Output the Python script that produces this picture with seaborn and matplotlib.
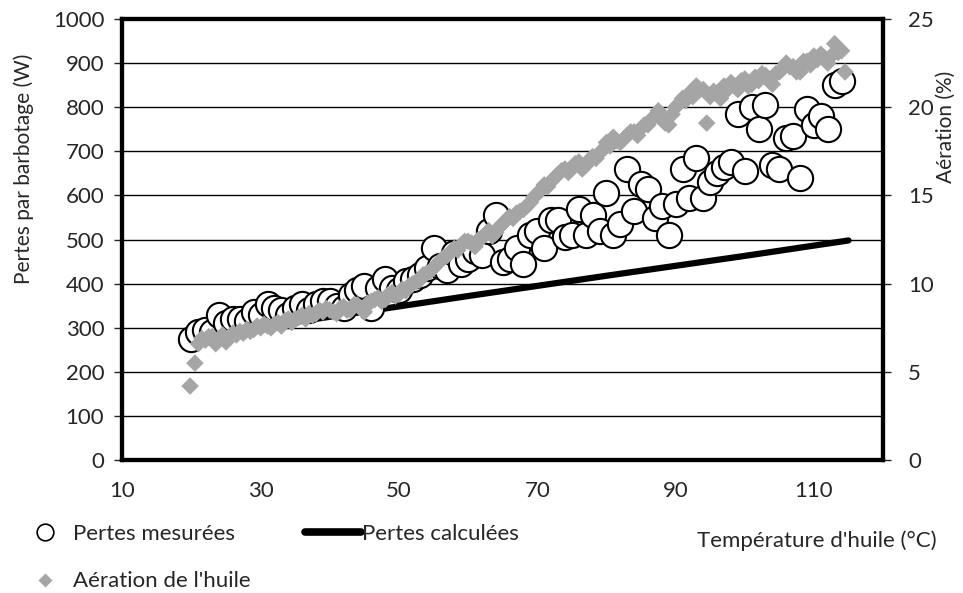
import numpy as np
import pandas as pd
import matplotlib
matplotlib.use("Agg")
import matplotlib.pyplot as plt
from matplotlib.lines import Line2D
import seaborn as sns

# Measured losses (W) vs oil temperature (degC)
temp_mes = [20, 21, 22, 23, 24, 25, 26, 27, 28, 29, 30, 31, 32, 33, 34, 35, 36, 37, 38, 39,
            40, 41, 42, 43, 44, 45, 46, 47, 48, 49, 50, 51, 52, 53, 54, 55, 56, 57, 58, 59,
            60, 61, 62, 63, 64, 65, 66, 67, 68, 69, 70, 71, 72, 73, 74, 75, 76, 77, 78, 79,
            80, 81, 82, 83, 84, 85, 86, 87, 88, 89, 90, 91, 92, 93, 94, 95, 96, 97, 98, 99,
            100, 101, 102, 103, 104, 105, 106, 107, 108, 109, 110, 111, 112, 113, 114]
pertes_mes = [275, 290, 295, 290, 330, 310, 320, 320, 315, 335, 330, 355, 345, 340, 330, 345, 355, 340, 355, 360,
              360, 350, 345, 375, 385, 395, 345, 390, 410, 390, 385, 405, 410, 420, 435, 480, 440, 430, 470, 445,
              455, 475, 465, 520, 555, 450, 455, 480, 445, 510, 520, 480, 545, 545, 505, 510, 570, 510, 555, 520,
              605, 510, 535, 660, 565, 625, 615, 550, 575, 510, 580, 660, 595, 685, 595, 630, 650, 665, 675, 785,
              655, 800, 750, 805, 670, 660, 730, 735, 640, 795, 760, 780, 750, 850, 860]

# Calculated losses (W)
temp_calc = [20, 40, 60, 80, 100, 115]
pertes_calc = [278, 325, 372, 418, 463, 498]

# Oil aeration (%)
temp_aer = [19.8, 20.5, 21, 21.5, 22, 22.5, 23, 23.5, 24, 24.5, 25, 25.5, 26, 26.5, 27, 27.5, 28, 28.5,
            29, 29.5, 30, 30.5, 31, 31.5, 32, 32.5, 33, 33.5, 34, 34.5, 35, 35.5, 36, 36.5, 37, 37.5,
            38, 38.5, 39, 39.5, 40, 40.5, 41, 41.5, 42, 42.5, 43, 43.5, 44, 44.5, 45, 45.5, 46, 46.5,
            47, 47.5, 48, 48.5, 49, 49.5, 50, 50.5, 51, 51.5, 52, 52.5, 53, 53.5, 54, 54.5, 55, 55.5,
            56, 56.5, 57, 57.5, 58, 58.5, 59, 59.5, 60, 60.5, 61, 61.5, 62, 62.5, 63, 63.5, 64, 64.5,
            65, 65.5, 66, 66.5, 67, 67.5, 68, 68.5, 69, 69.5, 70, 70.5, 71, 71.5, 72, 72.5, 73, 73.5,
            74, 74.5, 75, 75.5, 76, 76.5, 77, 77.5, 78, 78.5, 79, 79.5, 80, 80.5, 81, 81.5, 82, 82.5,
            83, 83.5, 84, 84.5, 85, 85.5, 86, 86.5, 87, 87.5, 88, 88.5, 89, 89.5, 90, 90.5, 91, 91.5,
            92, 92.5, 93, 93.5, 94, 94.5, 95, 95.5, 96, 96.5, 97, 97.5, 98, 98.5, 99, 99.5, 100, 100.5,
            101, 101.5, 102, 102.5, 103, 103.5, 104, 104.5, 105, 105.5, 106, 106.5, 107, 107.5, 108, 108.5,
            109, 109.5, 110, 110.5, 111, 111.5, 112, 112.5, 113, 113.5, 114, 114.5]
aeration = [4.2, 5.5, 6.6, 6.9, 6.8, 7.0, 7.0, 6.6, 6.9, 7.1, 6.7, 7.0, 7.2, 7.1, 7.3, 7.2, 7.4, 7.3,
            7.4, 7.6, 7.5, 7.7, 7.6, 7.5, 7.7, 7.8, 7.6, 7.9, 8.0, 7.8, 8.0, 8.1, 8.2, 8.0, 8.3, 8.2,
            8.3, 8.5, 8.4, 8.6, 8.5, 8.4, 8.3, 8.6, 8.7, 8.5, 8.5, 8.8, 8.8, 8.6, 8.4, 8.9, 9.0, 9.1,
            9.2, 9.0, 9.1, 9.4, 9.5, 9.3, 9.4, 9.7, 9.6, 9.9, 10.0, 10.1, 10.2, 10.5, 10.6, 10.7, 10.9, 11.1,
            11.3, 11.5, 11.6, 11.8, 12.0, 11.9, 12.2, 12.4, 12.4, 12.3, 12.1, 12.5, 12.6, 12.8, 13.0, 12.7,
            12.9, 13.2, 13.4, 13.6, 13.8, 13.7, 14.0, 14.1, 14.2, 14.4, 14.6, 14.9, 15.1, 15.3, 15.6, 15.5,
            15.8, 16.0, 16.2, 16.4, 16.5, 16.3, 16.6, 16.8, 16.9, 16.5, 16.7, 17.0, 17.2, 17.1, 17.4, 17.6,
            18.0, 17.8, 18.3, 18.1, 18.0, 18.2, 18.4, 18.6, 18.6, 18.4, 18.8, 19.0, 19.0, 19.3, 19.5, 19.8,
            19.3, 19.1, 19.0, 19.6, 20.0, 20.2, 20.5, 20.4, 20.8, 20.6, 21.2, 21.0, 21.0, 19.1, 20.6, 20.9,
            20.8, 20.5, 21.2, 21.0, 21.4, 21.2, 21.0, 21.5, 21.6, 21.2, 21.3, 21.7, 21.5, 21.9, 21.8, 21.5,
            21.3, 21.9, 22.0, 22.2, 22.5, 22.3, 22.3, 22.0, 22.0, 22.6, 22.6, 22.4, 22.9, 22.7, 23.0, 22.8,
            22.5, 22.9, 23.6, 23.1, 23.2, 22.0]

df_mes = pd.DataFrame({"temp": temp_mes, "pertes": pertes_mes})
df_calc = pd.DataFrame({"temp": temp_calc, "pertes": pertes_calc})
df_aer = pd.DataFrame({"temp": temp_aer, "aeration": aeration})

sns.set_style("white")
plt.rcParams["font.family"] = ["Lato", "DejaVu Sans"]
fs = 16

fig = plt.figure(figsize=(9.63, 5.93), dpi=100)
ax = fig.add_axes([0.127, 0.224, 0.790, 0.744])
ax2 = ax.twinx()

gray = "#A5A5A5"

# horizontal grid lines
for v in range(100, 1000, 100):
    ax.axhline(v, color="black", lw=1.0, zorder=0)

sns.lineplot(data=df_calc, x="temp", y="pertes", ax=ax, color="black", lw=4.5, zorder=2)
sns.scatterplot(data=df_mes, x="temp", y="pertes", ax=ax, s=330, marker="o",
                facecolor="white", edgecolor="black", linewidth=1.5, zorder=3)
sns.scatterplot(data=df_aer, x="temp", y="aeration", ax=ax2, s=80, marker="D",
                color=gray, edgecolor="none", linewidth=0, zorder=4)

ax.set_xlim(10, 120)
ax.set_ylim(0, 1000)
ax2.set_ylim(0, 25)
ax.set_xticks(range(10, 120, 20))
ax.set_yticks(range(0, 1001, 100))
ax2.set_yticks(range(0, 26, 5))

ax.set_xlabel("")
ax.set_ylabel("Pertes par barbotage (W)", fontsize=15)
ax2.set_ylabel("Aération (%)", fontsize=15)
ax.yaxis.set_label_coords(-0.116, 0.66)
ax2.yaxis.set_label_coords(1.07, 0.755)

for a in (ax, ax2):
    a.tick_params(direction="out", length=6, width=1, labelsize=fs, pad=7)
    for sp in a.spines.values():
        sp.set_linewidth(3)
        sp.set_color("black")
ax.tick_params(axis="x", pad=9)
ax2.tick_params(axis="y", pad=12)

ax2.set_zorder(ax.get_zorder() + 1)
ax2.patch.set_visible(False)

fig.text(0.973, 0.089, "Température d'huile (°C)", fontsize=fs, ha="right", va="center")

handles_left = [
    Line2D([], [], marker="o", ls="none", markersize=12, markerfacecolor="white",
           markeredgecolor="black", markeredgewidth=1.2, label="Pertes mesurées"),
    Line2D([], [], marker="D", ls="none", markersize=7, markerfacecolor=gray,
           markeredgecolor="none", label="Aération de l'huile"),
]
handles_right = [Line2D([], [], color="black", lw=5.5, label="Pertes calculées")]

leg1 = fig.legend(handles=handles_left, loc="upper left", bbox_to_anchor=(0.035, 0.117),
                  frameon=False, fontsize=fs, handlelength=1.0, handletextpad=0.75,
                  labelspacing=1.25, borderpad=0, borderaxespad=0)
leg2 = fig.legend(handles=handles_right, loc="upper left", bbox_to_anchor=(0.317, 0.117),
                  frameon=False, fontsize=fs, handlelength=2.5, handletextpad=0.05,
                  borderpad=0, borderaxespad=0)

plt.savefig("out.png", dpi=100)
